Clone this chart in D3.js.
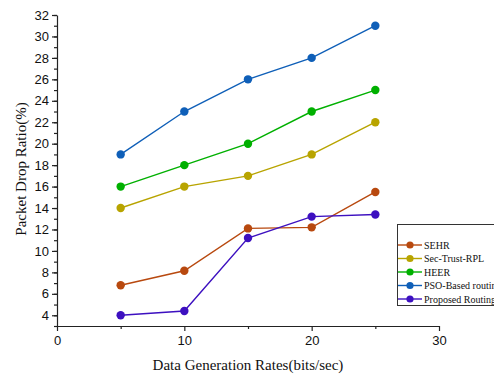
<!DOCTYPE html>
<html>
<head>
<meta charset="utf-8">
<style>
  body { margin: 0; background: #fff; }
  svg { display: block; }
</style>
</head>
<body>
<div id="chart"></div>
<script src="https://d3js.org/d3.v7.min.js"></script>
<script>
  const rates = [5, 10, 15, 20, 25];
  const names = ["SEHR", "Sec-Trust-RPL", "HEER", "PSO-Based routing", "Proposed Routing"];
  const sehr = [6.8, 8.15, 12.1, 12.2, 15.5];
  const secTrust = [14, 16, 17, 19, 22];
  const heer = [16, 18, 20, 23, 25];
  const pso = [19, 23, 26, 28, 31];
  const proposed = [4.0, 4.4, 11.2, 13.2, 13.4];
  const colors = ["#b8490f", "#b8a400", "#00b000", "#0f5fb8", "#3d10c0"];
  const xTicks = [0, 10, 20, 30];
  const yTicks = d3.range(4, 33, 2);

  const series = [sehr, secTrust, heer, pso, proposed].map((vals, i) => ({
    name: names[i],
    color: colors[i],
    points: vals.map((v, j) => ({ x: rates[j], y: v }))
  }));

  const width = 494, height = 376;
  const svg = d3.select("#chart").append("svg")
    .attr("width", width)
    .attr("height", height);

  const x = d3.scaleLinear().domain([0, 30]).range([57, 439]);
  const y = d3.scaleLinear().domain([3, 32]).range([326, 15]);

  // minor ticks
  svg.append("g")
    .attr("transform", "translate(57,0)")
    .call(d3.axisLeft(y).tickValues(d3.range(3, 33, 1)).tickSize(3).tickFormat(""))
    .call(g => g.select(".domain").remove());
  svg.append("g")
    .attr("transform", "translate(0,326)")
    .call(d3.axisBottom(x).tickValues([5, 15, 25]).tickSize(3).tickFormat(""))
    .call(g => g.select(".domain").remove());

  // main axes
  const yAxis = svg.append("g")
    .attr("transform", "translate(57,0)")
    .call(d3.axisLeft(y).tickValues(yTicks).tickSize(5).tickSizeOuter(0).tickPadding(3));
  const xAxis = svg.append("g")
    .attr("transform", "translate(0,326)")
    .call(d3.axisBottom(x).tickValues(xTicks).tickSize(5).tickSizeOuter(0).tickPadding(5));

  svg.selectAll(".tick line, .domain").attr("stroke", "#222").attr("stroke-width", 1.2);
  [xAxis, yAxis].forEach(a => a.selectAll("text")
    .attr("font-family", "Liberation Sans, Arial, sans-serif")
    .attr("font-size", 13)
    .attr("fill", "#111"));

  const line = d3.line().x(d => x(d.x)).y(d => y(d.y));

  series.forEach(s => {
    svg.append("path")
      .datum(s.points)
      .attr("fill", "none")
      .attr("stroke", s.color)
      .attr("stroke-width", 1.4)
      .attr("d", line);
    svg.append("g").selectAll("circle")
      .data(s.points)
      .enter()
      .append("circle")
      .attr("cx", d => x(d.x))
      .attr("cy", d => y(d.y))
      .attr("r", 4.2)
      .attr("fill", s.color);
  });

  // axis titles
  svg.append("text")
    .attr("transform", "translate(26,169) rotate(-90)")
    .attr("text-anchor", "middle")
    .attr("font-family", "Liberation Serif, Times New Roman, serif")
    .attr("font-size", 15)
    .attr("fill", "#111")
    .text("Packet Drop Ratio(%)");
  svg.append("text")
    .attr("x", 248)
    .attr("y", 370)
    .attr("text-anchor", "middle")
    .attr("font-family", "Liberation Serif, Times New Roman, serif")
    .attr("font-size", 15)
    .attr("fill", "#111")
    .text("Data Generation Rates(bits/sec)");

  // legend
  const legend = svg.append("g");
  legend.append("rect")
    .attr("x", 397.5)
    .attr("y", 224.5)
    .attr("width", 110)
    .attr("height", 81)
    .attr("fill", "#fff")
    .attr("stroke", "#333")
    .attr("stroke-width", 1);
  const items = legend.selectAll("g.item")
    .data(series)
    .enter()
    .append("g")
    .attr("transform", (d, i) => `translate(0,${245 + i * 13.5})`);
  items.append("line")
    .attr("x1", 398).attr("x2", 422)
    .attr("stroke", d => d.color)
    .attr("stroke-width", 1.4);
  items.append("circle")
    .attr("cx", 410)
    .attr("r", 3.6)
    .attr("fill", d => d.color);
  items.append("text")
    .attr("x", 424)
    .attr("dy", "0.35em")
    .attr("font-family", "Liberation Serif, Times New Roman, serif")
    .attr("font-size", 10)
    .attr("fill", "#111")
    .text(d => d.name);
</script>
</body>
</html>
